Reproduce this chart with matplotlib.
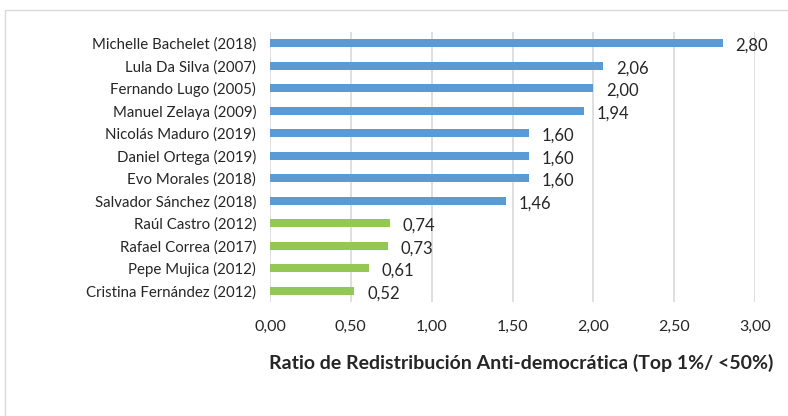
import matplotlib
matplotlib.use("Agg")
import matplotlib.pyplot as plt
from matplotlib.patches import Rectangle

names = ["Michelle Bachelet (2018)", "Lula Da Silva (2007)", "Fernando Lugo (2005)",
         "Manuel Zelaya (2009)", "Nicolás Maduro (2019)", "Daniel Ortega (2019)",
         "Evo Morales (2018)", "Salvador Sánchez (2018)", "Raúl Castro (2012)",
         "Rafael Correa (2017)", "Pepe Mujica (2012)", "Cristina Fernández (2012)"]
values = [2.80, 2.06, 2.00, 1.94, 1.60, 1.60, 1.60, 1.46, 0.74, 0.73, 0.61, 0.52]
groups = ["blue"] * 8 + ["green"] * 4
xticks = [0, 0.5, 1.0, 1.5, 2.0, 2.5, 3.0]
xlabel = "Ratio de Redistribución Anti-democrática (Top 1%/ <50%)"

colors = {"blue": "#5B9BD5", "green": "#92C853"}
plt.rcParams['font.family'] = ['Lato', 'DejaVu Sans']

fig = plt.figure(figsize=(7.88, 4.16), dpi=100)
fig.patches.append(Rectangle((5/788, -0.1), 1.0, 1 - 10/416 + 0.1, transform=fig.transFigure,
                             fill=False, edgecolor="#D9D9D9", linewidth=1))
ax = fig.add_axes([270/788, 1 - 302/416, (755 - 270)/788, 270/416])

y = list(range(len(names)))
ax.barh(y, values, height=0.37, color=[colors[g] for g in groups], zorder=3)
ax.set_ylim(len(names) - 0.5, -0.5)
ax.set_xlim(0, 3.0)
ax.set_yticks(y)
ax.set_yticklabels(names, fontsize=10.8, color="#262626")
ax.set_xticks(xticks)
ax.set_xticklabels([f"{t:.2f}".replace(".", ",") for t in xticks], fontsize=11.5, color="#262626")
ax.tick_params(length=0)
ax.tick_params(axis="y", pad=10)
ax.tick_params(axis="x", pad=13)
for s in ax.spines.values():
    s.set_visible(False)
ax.grid(axis="x", color="#D9D9D9", linewidth=1.2, zorder=0)
ax.set_axisbelow(True)
for yi, v in zip(y, values):
    ax.text(v + 0.08, yi + 0.12, f"{v:.2f}".replace(".", ","), va="center", ha="left",
            fontsize=12, color="#262626")
xl = ax.set_xlabel(xlabel, fontsize=14, fontweight="bold", color="#262626", labelpad=14)
xl.set_x((521 - 270) / (755 - 270))

fig.savefig("out.png", dpi=100)
